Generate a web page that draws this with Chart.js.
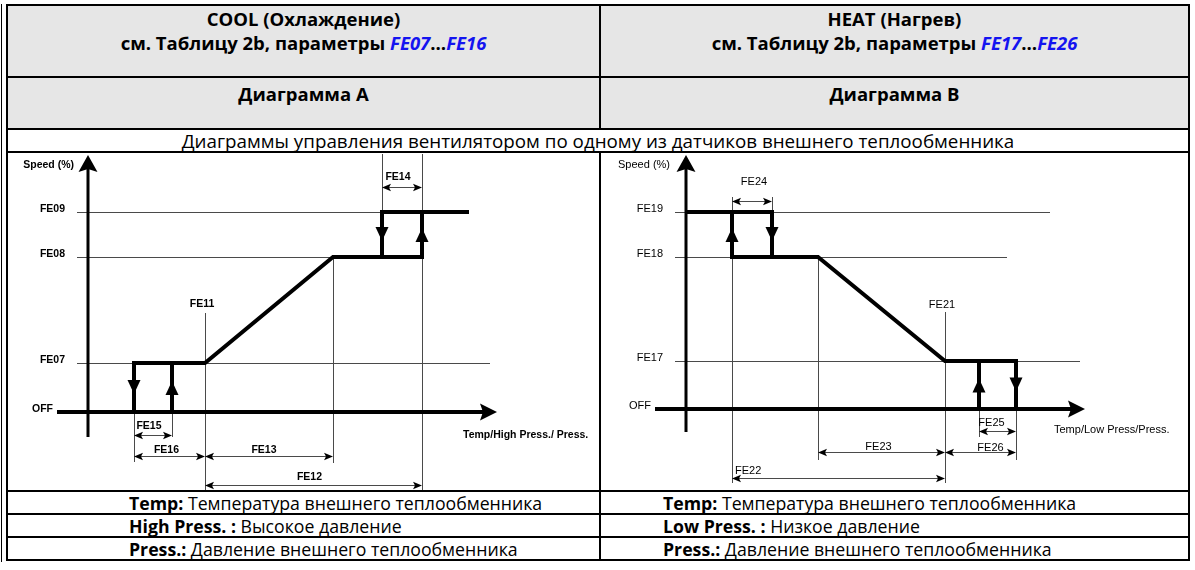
<!DOCTYPE html>
<html>
<head>
<meta charset="utf-8">
<script src="https://cdn.jsdelivr.net/npm/chart.js@4.4.1/dist/chart.umd.min.js"></script>
<style>
  html, body { margin: 0; padding: 0; background: #fff; }
  body { width: 1195px; height: 570px; position: relative; overflow: hidden;
         font-family: "Open Sans", "Noto Sans", sans-serif; color: #000; }
  #edge { position: absolute; left: 1px; top: 4px; width: 1px; height: 558px; background: #000; }
  #sheet { position: absolute; left: 6px; top: 4px; width: 1182px;
           border-collapse: collapse; table-layout: fixed; }
  #sheet td { border: 2px solid #000; padding: 0; text-align: center; vertical-align: top; }
  #sheet .h1 td { background: #e6e6e6; height: 69px; font-weight: bold; font-size: 18.5px; line-height: 24px; padding-top: 1px; }
  #sheet .h2 td { background: #e6e6e6; height: 46px; font-weight: bold; font-size: 18.5px; line-height: 24px; padding-top: 4px; }
  #sheet .sub td { height: 21px; font-size: 18.8px; vertical-align: middle; line-height: 20px; }
  #sheet .plot td { height: 337px; }
  #sheet .leg td { height: 21px; font-size: 17.7px; line-height: 20px; text-align: left; vertical-align: middle; }
  #sheet .leg td.l { padding-left: 121px; }
  #sheet .leg td.r { padding-left: 62px; }
  .fe { color: #1414f0; font-style: italic; }
  .box { position: absolute; }
</style>
</head>
<body>
<div id="edge"></div>
<table id="sheet">
  <colgroup><col style="width:593px"><col style="width:589px"></colgroup>
  <tr class="h1">
    <td>COOL (Охлаждение)<br>см. Таблицу 2b, параметры <span class="fe">FE07</span>…<span class="fe">FE16</span></td>
    <td>HEAT (Нагрев)<br>см. Таблицу 2b, параметры <span class="fe">FE17</span>…<span class="fe">FE26</span></td>
  </tr>
  <tr class="h2"><td>Диаграмма A</td><td>Диаграмма B</td></tr>
  <tr class="sub"><td colspan="2">Диаграммы управления вентилятором по одному из датчиков внешнего теплообменника</td></tr>
  <tr class="plot"><td></td><td></td></tr>
  <tr class="leg"><td class="l"><b>Temp:</b> Температура внешнего теплообменника</td><td class="r"><b>Temp:</b> Температура внешнего теплообменника</td></tr>
  <tr class="leg"><td class="l"><b>High Press. :</b> Высокое давление</td><td class="r"><b>Low Press. :</b> Низкое давление</td></tr>
  <tr class="leg"><td class="l"><b>Press.:</b> Давление внешнего теплообменника</td><td class="r"><b>Press.:</b> Давление внешнего теплообменника</td></tr>
</table>
<div class="box" style="left:8px;top:154px;width:591px;height:337px"><canvas id="cool"></canvas></div>
<div class="box" style="left:601px;top:154px;width:585px;height:337px"><canvas id="heat"></canvas></div>

<script>
// Diagram A - cooling: speed steps up as the probe value rises
const coolLevelNames = ['OFF', 'FE07', 'FE08', 'FE09'];
const coolLevels = [0, 19.6, 62, 80];                     // speed %
const coolBreaks = [4.6, 8.4, 11.7, 24.5, 29.4, 33.4, 38.1]; // probe value at each break
const coolGridEnds = [null, 40.2, 24.5, 29.4];
const coolAxisEnd = 40.9;
const coolDimNames = ['FE14', 'FE15', 'FE16', 'FE13', 'FE12'];
const coolDimFrom = [4, 0, 0, 2, 2];
const coolDimTo = [5, 1, 2, 3, 5];
const coolTick = ['FE11', 2];

// Diagram B - heating: speed steps down as the probe value rises
const heatLevelNames = ['OFF', 'FE17', 'FE18', 'FE19'];
const heatLevels = [0, 19.2, 60.8, 78.8];
const heatBreaks = [4.6, 8.6, 13.2, 25.9, 29.3, 33.0];
const heatGridEnds = [null, 39.4, 32.1, 36.4];
const heatAxisEnd = 39.9;
const heatDimNames = ['FE24', 'FE25', 'FE26', 'FE23', 'FE22'];
const heatDimFrom = [0, 4, 3, 2, 0];
const heatDimTo = [1, 5, 5, 3, 3];
const heatTick = ['FE21', 3];

const pt = (x, y) => ({ x, y });

function curveSets(segments) {
  return segments.map(seg => ({
    data: seg,
    borderColor: '#000',
    borderWidth: 4,
    borderJoinStyle: 'miter',
    borderCapStyle: 'butt',
    pointRadius: 0,
    tension: 0,
    fill: false
  }));
}

function dart(ctx, x, y, angle, len, half, notch) {
  ctx.save();
  ctx.translate(x, y);
  ctx.rotate(angle);
  ctx.beginPath();
  ctx.moveTo(0, 0);
  ctx.lineTo(-len, -half);
  ctx.lineTo(-len + notch, 0);
  ctx.lineTo(-len, half);
  ctx.closePath();
  ctx.fill();
  ctx.restore();
}

const diagramPlugin = {
  id: 'diagram',
  beforeDatasetsDraw(chart, args, o) {
    const { ctx, chartArea } = chart;
    const X = v => chart.scales.x.getPixelForValue(v);
    const Y = v => chart.scales.y.getPixelForValue(v);
    const x0 = X(0), y0 = Y(0);
    const yAt = s => s === 'top' ? chartArea.top
      : (typeof s === 'string' ? Y(o.levels[+s.slice(1)]) : y0 + s);
    ctx.save();
    ctx.lineWidth = 1;
    ctx.strokeStyle = '#4a4a4a';
    o.gridEnds.forEach((end, i) => {
      if (end == null) return;
      const y = Math.round(Y(o.levels[i])) + 0.5;
      ctx.beginPath(); ctx.moveTo(x0 - 11, y); ctx.lineTo(X(end), y); ctx.stroke();
    });
    o.guides.forEach(([i, a, b]) => {
      const x = Math.round(X(o.breaks[i])) + 0.5;
      ctx.beginPath(); ctx.moveTo(x, yAt(a)); ctx.lineTo(x, yAt(b)); ctx.stroke();
    });
    // axes
    ctx.fillStyle = '#000';
    ctx.strokeStyle = '#000';
    ctx.lineWidth = 3;
    ctx.beginPath(); ctx.moveTo(x0, chartArea.top + 12); ctx.lineTo(x0, y0 + o.axisBelow); ctx.stroke();
    dart(ctx, x0, chartArea.top + 1, -Math.PI / 2, 17, 9.5, 3);
    ctx.lineWidth = 4;
    ctx.beginPath(); ctx.moveTo(x0 - 31, y0); ctx.lineTo(X(o.axisEnd) - 12, y0); ctx.stroke();
    dart(ctx, X(o.axisEnd), y0, 0, 17, 8.5, 3);
    ctx.restore();
  },
  afterDatasetsDraw(chart, args, o) {
    const { ctx } = chart;
    const X = v => chart.scales.x.getPixelForValue(v);
    const Y = v => chart.scales.y.getPixelForValue(v);
    const x0 = X(0), y0 = Y(0);
    ctx.save();
    ctx.fillStyle = '#000';
    // direction arrows on the hysteresis legs
    o.legs.forEach(([i, from, to]) => {
      const x = X(o.breaks[i]);
      const mid = (Y(o.levels[from]) + Y(o.levels[to])) / 2;
      const down = o.levels[to] < o.levels[from];
      dart(ctx, x, mid + (down ? 6.5 : -6.5), down ? Math.PI / 2 : -Math.PI / 2, 14, 6.5, 0);
    });
    ctx.font = o.font;
    ctx.textBaseline = 'middle';
    // level names
    ctx.textAlign = 'right';
    o.levelNames.forEach((name, i) => {
      const dx = i === 0 ? -35 : -23;
      ctx.fillText(name, x0 + dx, Y(o.levels[i]) - 3);
    });
    ctx.fillText('Speed (%)', x0 + o.speedDx, chart.chartArea.top + 11);
    ctx.textAlign = 'left';
    ctx.fillText(o.axisTitle, X(o.axisEnd) + o.titleDx, y0 + o.titleDy);
    // threshold tick
    const tx = X(o.breaks[o.tick[1]]);
    ctx.textAlign = 'center';
    ctx.fillText(o.tick[0], tx - 3, y0 + o.tickDy);
    ctx.strokeStyle = '#4a4a4a';
    ctx.lineWidth = 1;
    // dimension arrows
    o.dims.names.forEach((name, k) => {
      const lay = o.dimLayout[k];
      const xa = X(o.breaks[o.dims.from[k]]), xb = X(o.breaks[o.dims.to[k]]);
      const base = typeof lay.ref === 'string' ? Y(o.levels[+lay.ref.slice(1)]) : y0;
      const y = Math.round(base + lay.dy) + 0.5;
      ctx.beginPath(); ctx.moveTo(xa + 2, y); ctx.lineTo(xb - 2, y); ctx.stroke();
      dart(ctx, xa, y, Math.PI, 9, 3.8, 2);
      dart(ctx, xb, y, 0, 9, 3.8, 2);
      ctx.textAlign = lay.align || 'center';
      const lx = lay.align === 'left' ? xa + lay.ldx : (xa + xb) / 2 + lay.ldx;
      ctx.fillText(name, lx, y + lay.ldy);
    });
    ctx.restore();
  }
};

function diagram(id, xRange, yRange, datasets, opts) {
  return new Chart(document.getElementById(id), {
    type: 'line',
    data: { datasets },
    options: {
      responsive: true,
      maintainAspectRatio: false,
      animation: false,
      events: [],
      layout: { padding: 0 },
      plugins: { legend: { display: false }, tooltip: { enabled: false }, diagram: opts },
      scales: {
        x: { type: 'linear', display: false, min: xRange[0], max: xRange[1] },
        y: { type: 'linear', display: false, min: yRange[0], max: yRange[1] }
      }
    },
    plugins: [diagramPlugin]
  });
}

const cx = coolBreaks, cl = coolLevels;
diagram('cool', [-8.0, 51.1], [-31.6, 103.2], curveSets([
  [pt(cx[0], cl[0]), pt(cx[0], cl[1]), pt(cx[2], cl[1]), pt(cx[3], cl[2]), pt(cx[5], cl[2]), pt(cx[5], cl[3])],
  [pt(cx[1], cl[0]), pt(cx[1], cl[1])],
  [pt(cx[4], cl[2]), pt(cx[4], cl[3]), pt(cx[6], cl[3])]
]), {
  levels: coolLevels, levelNames: coolLevelNames, breaks: coolBreaks,
  gridEnds: coolGridEnds, axisEnd: coolAxisEnd, axisBelow: 25,
  guides: [[0, 'L1', 50], [1, 'L1', 25], [2, -99, 78], [3, 'L2', 51], [4, 'top', 'L3'], [5, 'top', 78]],
  legs: [[0, 1, 0], [1, 0, 1], [4, 3, 2], [5, 2, 3]],
  font: 'bold 10.5px "Liberation Sans", Arial, sans-serif',
  speedDx: -14, axisTitle: 'Temp/High Press./ Press.', titleDx: -34, titleDy: 23,
  tick: coolTick, tickDy: -108,
  dims: { names: coolDimNames, from: coolDimFrom, to: coolDimTo },
  dimLayout: [
    { ref: 'L3', dy: -25, ldx: -4, ldy: -10 },
    { ref: 0, dy: 23, ldx: -4, ldy: -9 },
    { ref: 0, dy: 44, ldx: -3, ldy: -6 },
    { ref: 0, dy: 44, ldx: -5, ldy: -6 },
    { ref: 0, dy: 73, ldx: -4, ldy: -8 }
  ]
});

const hx = heatBreaks, hl = heatLevels;
diagram('heat', [-8.5, 50.0], [-32.8, 102.0], curveSets([
  [pt(0, hl[3]), pt(hx[1], hl[3]), pt(hx[1], hl[2])],
  [pt(hx[0], hl[3]), pt(hx[0], hl[2]), pt(hx[2], hl[2]), pt(hx[3], hl[1]), pt(hx[5], hl[1]), pt(hx[5], hl[0])],
  [pt(hx[4], hl[1]), pt(hx[4], hl[0])]
]), {
  levels: heatLevels, levelNames: heatLevelNames, breaks: heatBreaks,
  gridEnds: heatGridEnds, axisEnd: heatAxisEnd, axisBelow: 23,
  guides: [[0, -212, 74], [1, -212, 'L3'], [2, 'L2', 51], [3, -97, 74], [4, 'L0', 28], [5, 'L1', 51]],
  legs: [[0, 2, 3], [1, 3, 2], [4, 0, 1], [5, 1, 0]],
  font: '11px "Liberation Sans", Arial, sans-serif',
  speedDx: -16, axisTitle: 'Temp/Low Press/Press.', titleDx: -31, titleDy: 21,
  tick: heatTick, tickDy: -104,
  dims: { names: heatDimNames, from: heatDimFrom, to: heatDimTo },
  dimLayout: [
    { ref: 'L3', dy: -11, ldx: 2, ldy: -20 },
    { ref: 0, dy: 22, ldx: -6, ldy: -9 },
    { ref: 0, dy: 43, ldx: 10, ldy: -5 },
    { ref: 0, dy: 43, ldx: -3, ldy: -6 },
    { ref: 0, dy: 69, ldx: 3, ldy: -8, align: 'left' }
  ]
});
</script>
</body>
</html>
